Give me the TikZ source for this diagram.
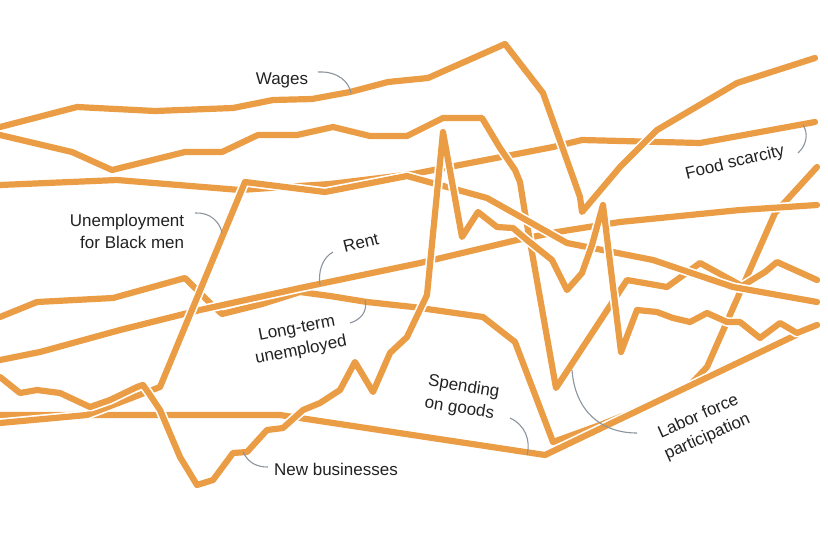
\documentclass[tikz,border=0pt]{standalone}
\usepackage{fontspec}
\setmainfont{Liberation Sans}
\definecolor{ora}{RGB}{234,157,68}
\definecolor{lead}{RGB}{140,148,158}
\definecolor{ink}{RGB}{34,34,34}
\tikzset{
  halo/.style={draw=white, line width=9.5pt, line join=round, line cap=round},
  ser/.style={draw=ora, line width=6.2pt, line join=round, line cap=round},
  leader/.style={draw=lead, line width=1.1pt},
  lbl/.style={text=ink, font=\fontsize{17}{22}\selectfont, inner sep=0pt, align=center}
}
\newcommand\myseries[1]{\draw[halo] #1; \draw[ser] #1;}
\begin{document}
\begin{tikzpicture}[x=1pt,y=-1pt]
\useasboundingbox (0,0) rectangle (828,539);
\fill[white] (0,0) rectangle (828,539);
% Food scarcity
\myseries{(0,185) -- (117,180) -- (240,190) -- (330,184) -- (413,174) -- (553,147) -- (582,140) -- (700,143) -- (815,122)}
% Long-term unemployed
\myseries{(0,317) -- (37,302) -- (113,298) -- (185,278) -- (210,303) -- (222,314) -- (262,304) -- (300,292) -- (330,296) -- (367,302) -- (413,307) -- (483,317) -- (515,342) -- (553,442) -- (600,425) -- (650,405) -- (690,385) -- (707,367) -- (775,213) -- (817,167)}
% Rent
\myseries{(0,360) -- (40,352) -- (120,330) -- (200,310) -- (300,288) -- (420,263) -- (517,240) -- (557,232) -- (620,222) -- (740,210) -- (817,205)}
% Spending on goods
\myseries{(0,415) -- (280,415) -- (545,455) -- (817,325)}
% Labor force participation
\myseries{(0,135) -- (72,152) -- (112,170) -- (185,152) -- (222,152) -- (258,135) -- (297,135) -- (333,127) -- (370,136) -- (407,136) -- (443,118) -- (482,118) -- (500,148) -- (515,170) -- (520,182) -- (525,213) -- (556,388) -- (627,280) -- (667,287) -- (700,263) -- (742,286) -- (765,272) -- (777,262) -- (817,280)}
% Wages
\myseries{(0,127) -- (77,107) -- (155,111) -- (233,108) -- (273,100) -- (312,99) -- (350,92) -- (388,82) -- (428,78) -- (505,44) -- (543,93) -- (580,197) -- (582,212) -- (620,167) -- (657,130) -- (737,83) -- (815,58)}
% Unemployment for Black men
\myseries{(0,423) -- (87,415) -- (160,387) -- (245,182) -- (325,192) -- (407,176) -- (487,198) -- (567,243) -- (653,260) -- (733,287) -- (817,302)}
% New businesses
\myseries{(0,377) -- (20,393) -- (37,390) -- (60,393) -- (90,407) -- (110,400) -- (137,387) -- (143,385) -- (148,392) -- (160,410) -- (180,457) -- (197,485) -- (213,480) -- (233,453) -- (247,452) -- (267,430) -- (283,428) -- (303,410) -- (320,403) -- (340,390) -- (355,362) -- (373,392) -- (390,353) -- (407,337) -- (427,295) -- (443,132) -- (462,237) -- (478,212) -- (497,227) -- (513,228) -- (527,240) -- (552,260) -- (567,290) -- (582,273) -- (592,245) -- (603,205) -- (621,352) -- (637,310) -- (657,312) -- (673,318) -- (690,322) -- (707,313) -- (727,322) -- (740,322) -- (760,338) -- (780,323) -- (797,333) -- (817,325)}

% labels
\node[lbl] (wages) at (282,80) {Wages};
\node[lbl, rotate=13.5] (food) at (735,163) {Food scarcity};
\node[lbl, align=right] (unemp) at (127,231) {Unemployment\\for Black men};
\node[lbl, rotate=14] (rent) at (361,243) {Rent};
\node[lbl, rotate=11] (longterm) at (299,340) {Long-term\\unemployed};
\node[lbl, rotate=-9, align=left] (spend) at (462,398) {Spending\\on goods};
\node[lbl, rotate=24] (labor) at (703,427) {Labor force\\participation};
\node[lbl] (newbiz) at (336,469) {New businesses};

% leader end points
\coordinate (wA) at (318,72);   \coordinate (wB) at (351,93);
\coordinate (fA) at (803,125);  \coordinate (fB) at (798,153);
\coordinate (uA) at (195,213);  \coordinate (uB) at (222,233);
\coordinate (rA) at (333,252);  \coordinate (rB) at (320,285);
\coordinate (lA) at (365,300);  \coordinate (lB) at (350,323);
\coordinate (sA) at (510,418);  \coordinate (sB) at (527,455);
\coordinate (pA) at (637,433);  \coordinate (pB) at (572,370);
\coordinate (nA) at (268,467);  \coordinate (nB) at (243,452);

\draw[leader] (wA) .. controls (338,71) and (349,82) .. (wB);
\draw[leader] (fA) .. controls (809,134) and (806,146) .. (fB);
\draw[leader] (uA) .. controls (210,212) and (220,222) .. (uB);
\draw[leader] (rA) .. controls (322,258) and (318,272) .. (rB);
\draw[leader] (lA) .. controls (368,312) and (360,320) .. (lB);
\draw[leader] (sA) .. controls (525,425) and (531,440) .. (sB);
\draw[leader] (pA) .. controls (600,433) and (575,410) .. (pB);
\draw[leader] (nA) .. controls (258,467) and (249,464) .. (nB);
\end{tikzpicture}
\end{document}
